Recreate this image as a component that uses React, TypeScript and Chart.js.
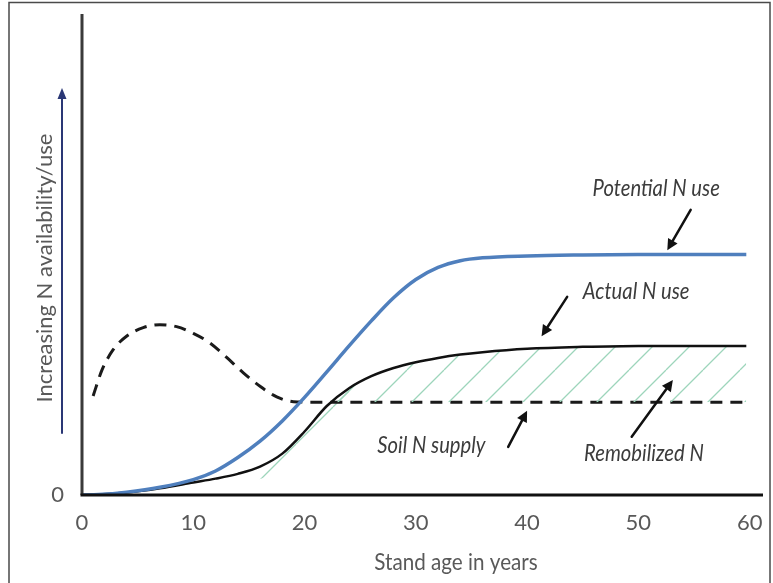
import React, { useEffect, useRef } from "react";
import { Chart, registerables } from "chart.js";

Chart.register(...registerables);

// ---- data ----
const xTicks = [0, 10, 20, 30, 40, 50, 60];
const yTicks = [0];

const useYears = [0, 1.5, 4, 7, 10, 12, 14, 16, 18, 20, 22, 24, 26, 28, 30, 32, 34, 36, 40, 45, 50, 55, 59.7];
const potentialUse = [0, 0.1, 0.6, 1.6, 3.2, 5.0, 7.8, 11.2, 15.4, 20.3, 25.6, 31.0, 36.2, 41.0, 44.8, 47.3, 48.7, 49.3, 49.7, 49.9, 50, 50, 50];
const actualUse = [0, 0.1, 0.5, 1.4, 2.6, 3.4, 4.4, 5.9, 8.6, 13.2, 18.5, 22.2, 24.7, 26.4, 27.6, 28.5, 29.2, 29.7, 30.4, 30.8, 31, 31, 31];

const soilYears = [1, 1.8, 2.8, 4, 5.5, 7, 8.5, 10, 11.5, 13, 14.5, 16, 17.5, 19, 20.5, 25, 30, 40, 50, 59.7];
const soilSupply = [20.6, 26, 30.2, 33, 34.8, 35.4, 35, 33.6, 31.6, 28.6, 25.4, 22.6, 20.4, 19.4, 19.3, 19.3, 19.3, 19.3, 19.3, 19.3];

// lower edge of the thin hatched strip under the actual-use curve (years 13.5–24)
const stripYears = [13.5, 15, 17, 19, 21, 23, 24];
const stripLower = [3.9, 3.0, 4.2, 7.5, 12.5, 17.5, 19.3];

const noteLabels = ["Potential N use", "Actual N use", "Soil N supply", "Remobilized N"];
const noteX = [51.6, 49.8, 31.4, 50.5];
const noteY = [63.8, 42.3, 10.2, 8.7];
const arrowTailX = [54.7, 43.6, 38.3, 49.4];
const arrowTailY = [59.3, 41.2, 10.0, 12.1];
const arrowHeadX = [52.6, 41.3, 40.0, 53.1];
const arrowHeadY = [50.9, 33.0, 17.5, 23.9];

const xTitle = "Stand age in years";
const yTitle = "Increasing N availability/use";

const FONT = "Lato, 'Open Sans', sans-serif";

function drawArrow(ctx: CanvasRenderingContext2D, x1: number, y1: number, x2: number, y2: number, color: string, lw: number, headLen: number, headW: number) {
  const ang = Math.atan2(y2 - y1, x2 - x1);
  const bx = x2 - Math.cos(ang) * headLen;
  const by = y2 - Math.sin(ang) * headLen;
  ctx.save();
  ctx.strokeStyle = color;
  ctx.fillStyle = color;
  ctx.lineWidth = lw;
  ctx.lineCap = "round";
  ctx.beginPath();
  ctx.moveTo(x1, y1);
  ctx.lineTo(bx, by);
  ctx.stroke();
  ctx.beginPath();
  ctx.moveTo(x2, y2);
  ctx.lineTo(bx + Math.sin(ang) * headW, by - Math.cos(ang) * headW);
  ctx.lineTo(bx - Math.sin(ang) * headW, by + Math.cos(ang) * headW);
  ctx.closePath();
  ctx.fill();
  ctx.restore();
}

function drawText(ctx: CanvasRenderingContext2D, text: string, x: number, y: number, font: string, color: string, sx: number) {
  ctx.save();
  ctx.translate(x, y);
  ctx.scale(sx, 1);
  ctx.font = font;
  ctx.fillStyle = color;
  ctx.textAlign = "center";
  ctx.textBaseline = "middle";
  ctx.fillText(text, 0, 0);
  ctx.restore();
}

const decorPlugin = {
  id: "decor",
  afterDraw(chart: any) {
    const { ctx, scales, chartArea } = chart;
    const xs = scales.x;
    const ys = scales.y;
    // outer frame
    ctx.save();
    ctx.strokeStyle = "#4a4a4a";
    ctx.lineWidth = 1.5;
    ctx.strokeRect(9, 2.5, 761, 620);
    ctx.restore();

    // axis lines
    ctx.save();
    ctx.lineCap = "butt";
    ctx.strokeStyle = "#3a3a3a";
    ctx.lineWidth = 3;
    ctx.beginPath();
    ctx.moveTo(chartArea.left, chartArea.top);
    ctx.lineTo(chartArea.left, chartArea.bottom);
    ctx.stroke();
    ctx.strokeStyle = "#111";
    ctx.beginPath();
    ctx.moveTo(chartArea.left - 1.5, chartArea.bottom);
    ctx.lineTo(xs.getPixelForValue(xs.max), chartArea.bottom);
    ctx.stroke();
    ctx.restore();

    // y title + blue arrow
    ctx.save();
    ctx.translate(45, 268);
    ctx.rotate(-Math.PI / 2);
    ctx.font = `22px ${FONT}`;
    ctx.fillStyle = "#595959";
    ctx.textAlign = "center";
    ctx.textBaseline = "middle";
    ctx.fillText(yTitle, 0, 0);
    ctx.restore();
    drawArrow(ctx, 62, 433, 62, 88, "#2a3775", 2, 11, 4.5);

    // x title
    drawText(ctx, xTitle, 456, 562, `24px ${FONT}`, "#595959", 0.86);

    // annotations
    for (let i = 0; i < noteLabels.length; i++) {
      drawText(ctx, noteLabels[i], xs.getPixelForValue(noteX[i]), ys.getPixelForValue(noteY[i]), `italic 23px ${FONT}`, "#3c3c3c", 0.88);
      drawArrow(
        ctx,
        xs.getPixelForValue(arrowTailX[i]),
        ys.getPixelForValue(arrowTailY[i]),
        xs.getPixelForValue(arrowHeadX[i]),
        ys.getPixelForValue(arrowHeadY[i]),
        "#111",
        2.5,
        11,
        5.5
      );
    }
  },
};

function makeHatch(): CanvasPattern | string {
  const S = 37;
  const tile = document.createElement("canvas");
  tile.width = S;
  tile.height = S;
  const t = tile.getContext("2d");
  if (!t) return "rgba(0,0,0,0)";
  t.strokeStyle = "#9dd5bb";
  t.lineWidth = 1.3;
  t.beginPath();
  for (const off of [-S, 0, S]) {
    t.moveTo(off, S);
    t.lineTo(off + S, 0);
  }
  t.stroke();
  const p = t.createPattern(tile, "repeat");
  return p || "rgba(0,0,0,0)";
}

export default function App() {
  const ref = useRef<HTMLCanvasElement>(null);
  useEffect(() => {
    if (!ref.current) return;
    const hatch = makeHatch();
    const chart = new Chart(ref.current, {
      type: "line",
      data: {
        datasets: [
          {
            label: "Potential N use",
            data: useYears.map((x, i) => ({ x, y: potentialUse[i] })),
            borderColor: "#4f7fbd",
            borderWidth: 3.5,
            pointRadius: 0,
            cubicInterpolationMode: "monotone",
            fill: false,
          },
          {
            label: "Actual N use",
            data: useYears.map((x, i) => ({ x, y: actualUse[i] })),
            borderColor: "#111111",
            borderWidth: 2.5,
            pointRadius: 0,
            cubicInterpolationMode: "monotone",
            fill: { target: 2, above: hatch as any, below: "rgba(0,0,0,0)" },
          },
          {
            label: "Soil N supply",
            data: soilYears.map((x, i) => ({ x, y: soilSupply[i] })),
            borderColor: "#1a1a1a",
            borderWidth: 3,
            borderDash: [12, 8],
            pointRadius: 0,
            cubicInterpolationMode: "monotone",
            fill: false,
          },
          {
            label: "strip",
            data: stripYears.map((x, i) => ({ x, y: stripLower[i] })),
            borderWidth: 0,
            borderColor: "rgba(0,0,0,0)",
            pointRadius: 0,
            cubicInterpolationMode: "monotone",
            fill: { target: 1, below: hatch as any, above: "rgba(0,0,0,0)" },
          },
        ],
      },
      options: {
        animation: false,
        responsive: false,
        maintainAspectRatio: false,
        layout: { padding: { left: 0, top: 14, right: 10, bottom: 0 } },
        plugins: {
          legend: { display: false },
          tooltip: { enabled: false },
        },
        scales: {
          x: {
            type: "linear",
            min: 0,
            max: 61.2,
            afterBuildTicks: (s: any) => {
              s.ticks = xTicks.map((v) => ({ value: v }));
            },
            afterFit: (s: any) => {
              s.height = 88;
              s.paddingLeft = 0;
              s.paddingRight = 0;
            },
            grid: { display: false, drawTicks: false },
            border: { display: false },
            ticks: {
              font: { family: FONT, size: 22 },
              color: "#595959",
              padding: 15,
              maxRotation: 0,
              autoSkip: false,
            },
          },
          y: {
            type: "linear",
            min: 0,
            max: 100,
            afterBuildTicks: (s: any) => {
              s.ticks = yTicks.map((v) => ({ value: v }));
            },
            afterFit: (s: any) => {
              s.width = 82;
              s.paddingTop = 0;
              s.paddingBottom = 0;
            },
            grid: { display: false, drawTicks: false },
            border: { display: false },
            ticks: {
              font: { family: FONT, size: 22 },
              color: "#595959",
              padding: 18,
            },
          },
        },
      },
      plugins: [decorPlugin],
    });
    return () => chart.destroy();
  }, []);
  return (
    <div style={{ position: "absolute", left: 0, top: 0, width: 773, height: 583, background: "#fff" }}>
      <canvas ref={ref} width={773} height={583} style={{ display: "block" }} />
    </div>
  );
}
